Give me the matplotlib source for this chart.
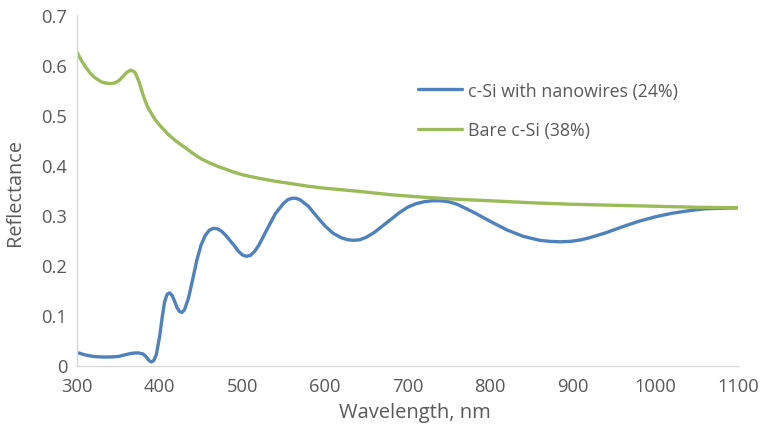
import matplotlib
matplotlib.use("Agg")
import matplotlib.pyplot as plt
from matplotlib.ticker import FuncFormatter

# Reflectance spectra (wavelength in nm)
wl_nanowires = [300, 310, 320, 330, 340, 350, 360, 365, 370, 375, 380, 384, 387, 390,
                393, 396, 400, 403, 406, 409, 412, 415, 418, 421, 424, 427, 430, 435,
                440, 445, 450, 455, 460, 465, 470, 475, 480, 485, 490, 495, 500, 505,
                510, 515, 520, 530, 540, 550, 555, 560, 565, 570, 580, 590, 600, 610,
                620, 628, 635, 642, 650, 660, 670, 680, 690, 700, 710, 720, 730, 740,
                750, 760, 770, 780, 790, 800, 820, 840, 860, 872, 885, 898, 910, 920,
                940, 960, 980, 1000, 1020, 1040, 1060, 1080, 1100]
r_nanowires = [0.026, 0.021, 0.018, 0.017, 0.017, 0.018, 0.022, 0.024, 0.025, 0.025,
               0.023, 0.017, 0.010, 0.007, 0.010, 0.022, 0.058, 0.095, 0.127, 0.142,
               0.145, 0.140, 0.129, 0.116, 0.108, 0.106, 0.111, 0.135, 0.172, 0.210,
               0.240, 0.259, 0.270, 0.274, 0.273, 0.268, 0.260, 0.250, 0.240, 0.229,
               0.221, 0.218, 0.220, 0.228, 0.240, 0.272, 0.303, 0.324, 0.331, 0.334,
               0.334, 0.331, 0.318, 0.298, 0.279, 0.264, 0.255, 0.251, 0.250, 0.251,
               0.256, 0.266, 0.279, 0.292, 0.305, 0.316, 0.323, 0.327, 0.329, 0.329,
               0.327, 0.322, 0.314, 0.306, 0.297, 0.288, 0.271, 0.258, 0.250, 0.248,
               0.247, 0.248, 0.251, 0.255, 0.265, 0.277, 0.288, 0.297, 0.304, 0.309,
               0.313, 0.314, 0.315]

wl_bare = [300, 305, 310, 315, 320, 325, 330, 335, 340, 345, 350, 355, 360, 365, 370,
           375, 380, 385, 390, 395, 400, 410, 420, 430, 440, 450, 460, 470, 480, 490,
           500, 520, 540, 560, 580, 600, 640, 680, 720, 760, 800, 850, 900, 950, 1000,
           1050, 1100]
r_bare = [0.626, 0.610, 0.597, 0.586, 0.577, 0.571, 0.566, 0.564, 0.563, 0.564, 0.568,
          0.576, 0.585, 0.590, 0.586, 0.567, 0.540, 0.518, 0.503, 0.490, 0.480, 0.462,
          0.448, 0.436, 0.424, 0.413, 0.405, 0.398, 0.392, 0.386, 0.381, 0.374, 0.368,
          0.363, 0.358, 0.354, 0.348, 0.341, 0.336, 0.332, 0.329, 0.325, 0.322, 0.320,
          0.318, 0.316, 0.315]

label_nanowires = "c-Si with nanowires (24%)"
label_bare = "Bare c-Si (38%)"

x_ticks = list(range(300, 1101, 100))
y_ticks = [0, 0.1, 0.2, 0.3, 0.4, 0.5, 0.6, 0.7]

text_color = "#595959"
plt.rcParams["font.family"] = ["Open Sans", "DejaVu Sans"]

fig = plt.figure(figsize=(7.63, 4.31), dpi=100)
ax = fig.add_axes([77 / 763, 1 - 366.5 / 431, (738 - 77) / 763, (366.5 - 16) / 431])

ax.plot(wl_nanowires, r_nanowires, color="#4F81BD", lw=2.4,
        solid_joinstyle="round", solid_capstyle="round", label=label_nanowires)
ax.plot(wl_bare, r_bare, color="#9BBB59", lw=2.4,
        solid_joinstyle="round", solid_capstyle="round", label=label_bare)

ax.set_xlim(300, 1100)
ax.set_ylim(0, 0.7)
ax.set_xticks(x_ticks)
ax.set_yticks(y_ticks)
ax.yaxis.set_major_formatter(FuncFormatter(lambda v, p: "0" if v == 0 else f"{v:g}"))
ax.tick_params(length=0, labelsize=13.2, colors=text_color)
ax.tick_params(axis="x", pad=8)
ax.tick_params(axis="y", pad=7)

for side in ("top", "right"):
    ax.spines[side].set_visible(False)
for side in ("left", "bottom"):
    ax.spines[side].set_color("#D9D9D9")
    ax.spines[side].set_linewidth(1.0)

ax.set_xlabel("Wavelength, nm", fontsize=14.5, color=text_color)
ax.set_ylabel("Reflectance", fontsize=14.3, color=text_color)
ax.xaxis.set_label_coords((415 - 77) / 661, -(413 - 366.5) / 350.5)
ax.yaxis.set_label_coords(-(77 - 15) / 661, (366.5 - 192) / 350.5)
ax.xaxis.label.set_va("center")
ax.yaxis.label.set_va("center")

leg = ax.legend(loc="upper left", bbox_to_anchor=(0.505, 0.83), frameon=False,
                fontsize=12.8, handlelength=2.5, handletextpad=0.3,
                labelspacing=1.2, borderaxespad=0)
for t in leg.get_texts():
    t.set_color(text_color)

fig.savefig("out.png", dpi=100)
